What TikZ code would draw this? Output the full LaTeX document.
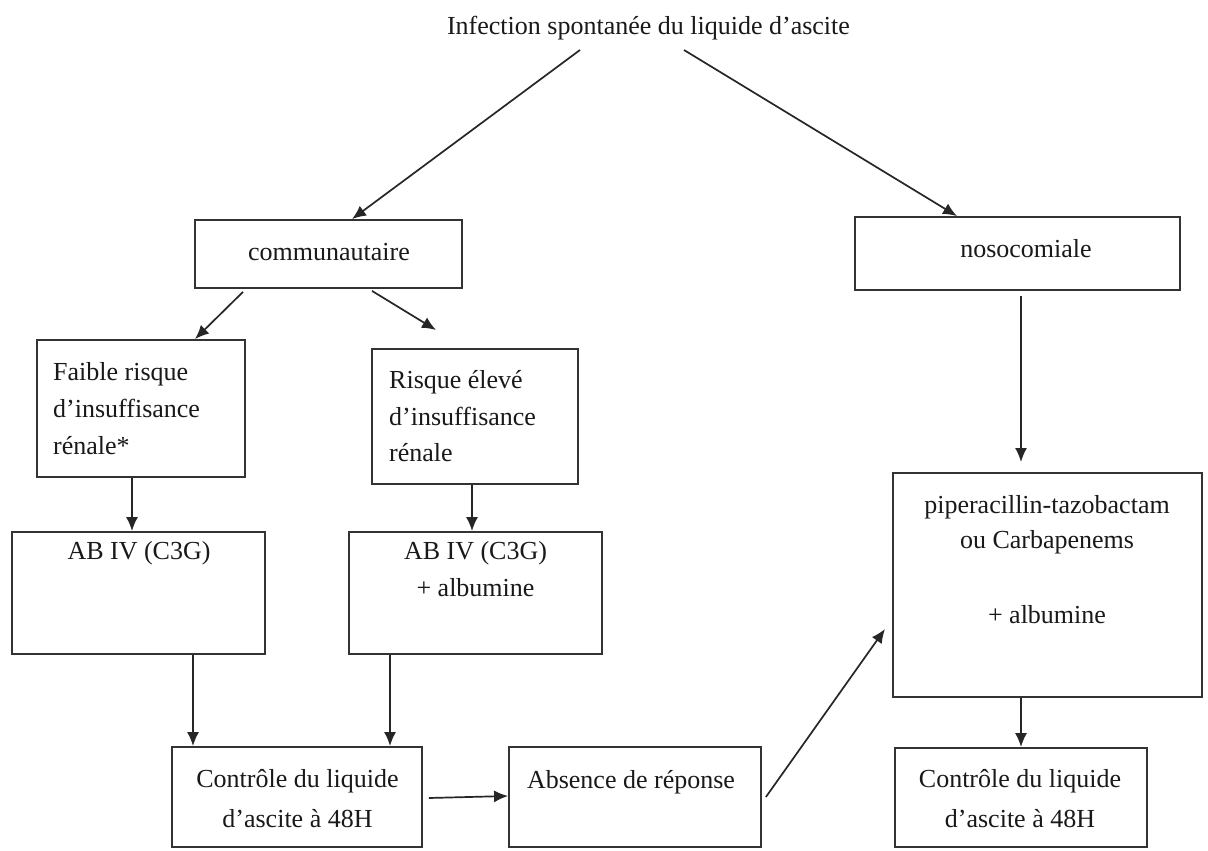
\documentclass[tikz,border=0pt]{standalone}
\usepackage{fontspec}
\setmainfont{Liberation Serif}
\usetikzlibrary{arrows.meta}
\begin{document}
\begin{tikzpicture}[x=1pt,y=-1pt,
  box/.style={draw=black!80,line width=1.8pt,inner sep=0pt,rectangle},
  txt/.style={inner sep=0pt,anchor=base,font=\fontsize{26}{30}\selectfont,text=black!90},
  txtl/.style={txt,anchor=base west},
  arr/.style={draw=black!85,line width=1.7pt,-{Latex[length=14pt,width=12pt]}}]
\useasboundingbox[fill=white] (0,0) rectangle (1208,851);
% boxes
\node[box,minimum width=267pt,minimum height=68pt] (comm) at (328.5,254) {};
\node[box,minimum width=325pt,minimum height=73pt] (noso) at (1017.5,253.5) {};
\node[box,minimum width=208pt,minimum height=137pt] (faible) at (141,408.5) {};
\node[box,minimum width=206pt,minimum height=135pt] (risque) at (475,416.5) {};
\node[box,minimum width=253pt,minimum height=122pt] (ab1) at (138.5,593) {};
\node[box,minimum width=253pt,minimum height=122pt] (ab2) at (475.5,593) {};
\node[box,minimum width=309pt,minimum height=224pt] (pip) at (1047.5,585) {};
\node[box,minimum width=250pt,minimum height=100pt] (ctl1) at (297,797) {};
\node[box,minimum width=252pt,minimum height=100pt] (abs) at (635,797) {};
\node[box,minimum width=252pt,minimum height=99pt] (ctl2) at (1021,797.5) {};
% texts
\node[txt] (title) at (648.5,35) {Infection spontanée du liquide d’ascite};
\node[txt] (tcomm) at (329,260) {communautaire};
\node[txt] (tnoso) at (1026,257) {nosocomiale};
\node[txtl] (tf1) at (53,380) {Faible risque};
\node[txtl] (tf2) at (53,417) {d’insuffisance};
\node[txtl] (tf3) at (53,454) {rénale*};
\node[txtl] (tr1) at (389,388) {Risque élevé};
\node[txtl] (tr2) at (389,425) {d’insuffisance};
\node[txtl] (tr3) at (389,461) {rénale};
\node[txt] (ta1) at (139,559) {AB IV (C3G)};
\node[txt] (ta2) at (475.5,559) {AB IV (C3G)};
\node[txt] (ta3) at (475.5,596) {+ albumine};
\node[txt] (tp1) at (1047,513) {piperacillin-tazobactam};
\node[txt] (tp2) at (1047,548) {ou Carbapenems};
\node[txt] (tp3) at (1047,623) {+ albumine};
\node[txt] (tc1) at (297.5,787) {Contrôle du liquide};
\node[txt] (tc2) at (297.5,827) {d’ascite à 48H};
\node[txt] (tabs) at (631,788) {Absence de réponse};
\node[txt] (td1) at (1020,787) {Contrôle du liquide};
\node[txt] (td2) at (1020,827) {d’ascite à 48H};
% connectors
\coordinate (s1) at (580,50);
\coordinate (s2) at (684,50);
\coordinate (e2) at (436,330);
\coordinate (e3) at (1021,462);
\draw[arr] (s1) -- ([xshift=23.5pt]comm.north);
\draw[arr] (s2) -- ([xshift=-60.5pt]noso.north);
\draw[arr] ([xshift=-85.5pt,yshift=-3pt]comm.south) -- ([xshift=54pt]faible.north);
\draw[arr] ([xshift=43.5pt,yshift=-2pt]comm.south) -- (e2);
\draw[arr] ([xshift=3.5pt,yshift=-5pt]noso.south) -- (e3);
\draw[arr] (faible.south -| 132,0) -- (ab1.north -| 132,0);
\draw[arr] (risque.south -| 472,0) -- (ab2.north -| 472,0);
\draw[arr] (ab1.south -| 193,0) -- (ctl1.north -| 193,0);
\draw[arr] (ab2.south -| 390,0) -- (ctl1.north -| 390,0);
\draw[arr] ([xshift=6pt,yshift=-1pt]ctl1.east) -- (abs.west |- 0,796);
\draw[arr] ([xshift=4pt]abs.east |- 0,797) -- (885,629);
\draw[arr] (pip.south -| 1021,0) -- (ctl2.north -| 1021,0);
\end{tikzpicture}
\end{document}
